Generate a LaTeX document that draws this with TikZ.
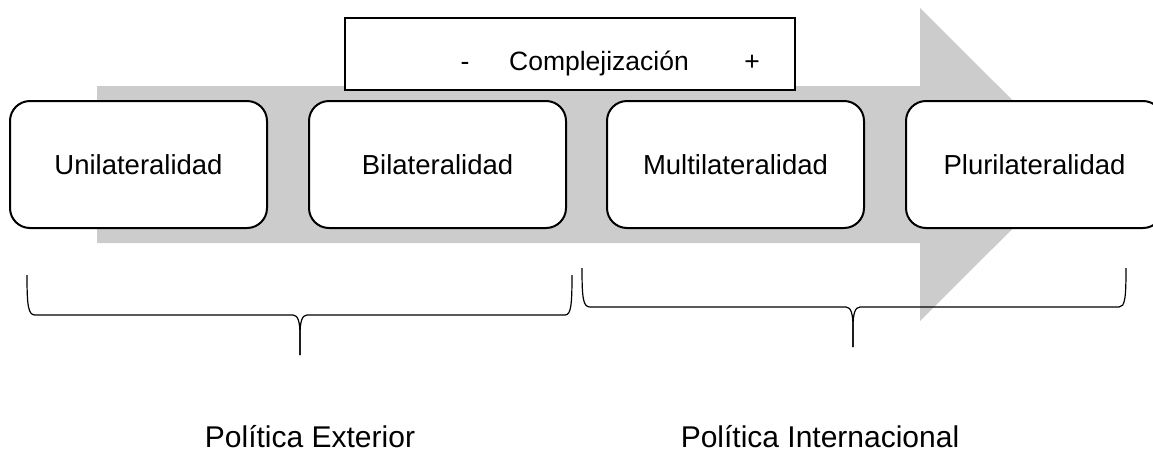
\documentclass[tikz,border=0pt]{standalone}
\usepackage{fontspec}
\setmainfont{Liberation Sans}
\begin{document}
\begin{tikzpicture}[x=1pt,y=-1pt,
  lbox/.style={draw=black, line width=2pt, fill=white, rounded corners=20pt,
    minimum width=257pt, minimum height=127pt, inner sep=0pt,
    font=\fontsize{27.5}{33}\selectfont},
  cbox/.style={draw=black, line width=2pt, fill=white, minimum width=450pt,
    minimum height=72pt, inner sep=0pt},
  ctext/.style={font=\fontsize{26.5}{32}\selectfont, inner sep=0pt, anchor=base},
  blabel/.style={font=\fontsize{30}{36}\selectfont, inner sep=0pt, anchor=base},
  brace/.style={draw=black, line width=1.2pt}]
\useasboundingbox (0,0) rectangle (1153,461);
% big gray arrow
\fill[gray!40] (97,86) -- (920,86) -- (920,8) -- (1077,164.5) -- (920,321) -- (920,243) -- (97,243) -- cycle;
% complexity box
\node[cbox] (cb) at (570,54) {};
\node[ctext] (minus) at (465,70) {-};
\node[ctext] (compl) at (599,70) {Complejizaci\'on};
\node[ctext] (plus) at (752,70) {+};
% stage boxes
\node[lbox] (u) at (138.5,164.5) {Unilateralidad};
\node[lbox] (b) at (437.5,164.5) {Bilateralidad};
\node[lbox] (m) at (735.5,164.5) {Multilateralidad};
\node[lbox] (p) at (1034.5,164.5) {Plurilateralidad};
% braces
\coordinate (l1) at (27,275);
\coordinate (l2) at (572,275);
\coordinate (lt) at (300,355);
\coordinate (r1) at (582,268);
\coordinate (r2) at (1126,268);
\coordinate (rt) at (853,347);
\draw[brace] (l1) .. controls (27,305) and (28,315) .. (35,315) -- (293,315)
  .. controls (298,315) and (300,322) .. (300,335) -- (lt);
\draw[brace] (lt) -- (300,335) .. controls (300,322) and (302,315) .. (307,315)
  -- (565,315) .. controls (571,315) and (572,305) .. (l2);
\draw[brace] (r1) .. controls (582,298) and (583,307) .. (590,307) -- (846,307)
  .. controls (851,307) and (853,314) .. (853,327) -- (rt);
\draw[brace] (rt) -- (853,327) .. controls (853,314) and (855,307) .. (860,307)
  -- (1119,307) .. controls (1125,307) and (1126,298) .. (r2);
% labels
\node[blabel] (pe) at (310,447) {Pol\'itica Exterior};
\node[blabel] (pi) at (820,447) {Pol\'itica Internacional};
\end{tikzpicture}
\end{document}
